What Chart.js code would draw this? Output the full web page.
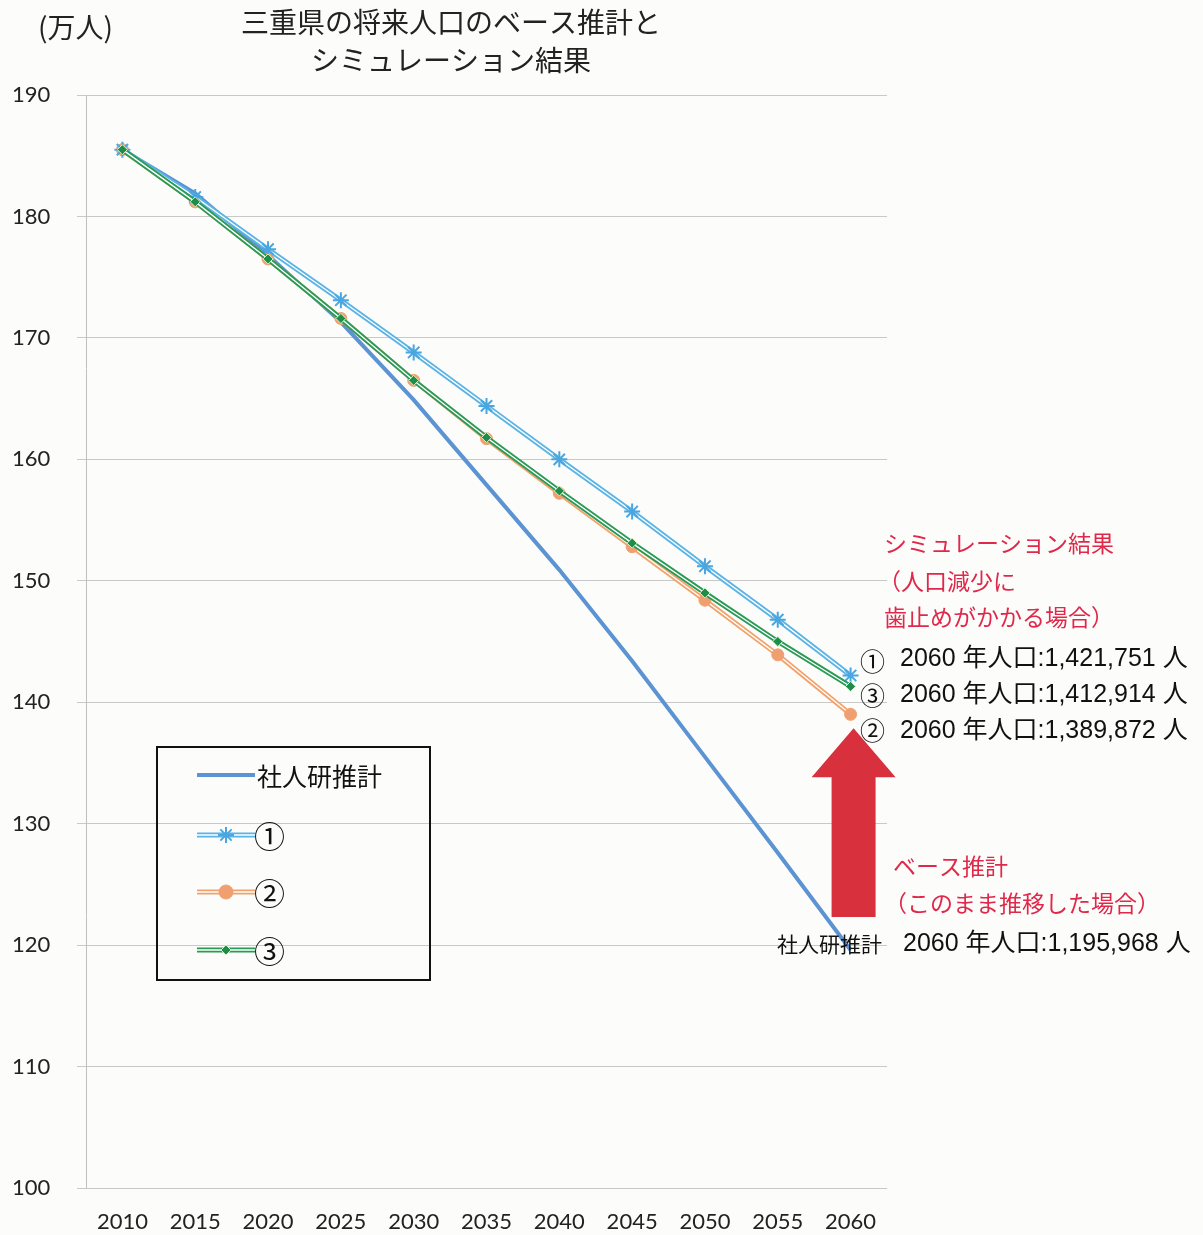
<!DOCTYPE html>
<html lang="ja">
<head>
<meta charset="utf-8">
<title>三重県の将来人口のベース推計とシミュレーション結果</title>
<script src="https://cdn.jsdelivr.net/npm/chart.js@4.4.1/dist/chart.umd.min.js"></script>
<style>
html,body{margin:0;padding:0;background:#fcfcfa;}
#wrap{position:relative;width:1203px;height:1235px;}
</style>
</head>
<body>
<div id="wrap"><canvas id="PopChart" width="1203" height="1235"></canvas></div>
<script>
// ---- data (万人) ----
var YearLabels   = ['2010','2015','2020','2025','2030','2035','2040','2045','2050','2055','2060'];
var ShajinkenData = [185.5, 181.9, 176.8, 171.3, 164.9, 157.9, 150.9, 143.4, 135.5, 127.6, 119.6];
var Sim1Data      = [185.5, 181.6, 177.3, 173.1, 168.8, 164.4, 160.0, 155.7, 151.2, 146.8, 142.2];
var Sim2Data      = [185.5, 181.2, 176.5, 171.6, 166.5, 161.7, 157.2, 152.8, 148.4, 143.9, 139.0];
var Sim3Data      = [185.5, 181.2, 176.5, 171.6, 166.5, 161.8, 157.4, 153.1, 149.0, 145.0, 141.3];
var YMin = 100, YMax = 190, YStep = 10;

var SeriesNames = ['社人研推計','①','②','③'];
var Pop2060Text = ['2060 年人口:1,421,751 人','2060 年人口:1,412,914 人','2060 年人口:1,389,872 人','2060 年人口:1,195,968 人'];

var BlueCol  = '#5b93d3';
var Sim1Col  = '#5ab4e5';
var Sim2Col  = '#f2a36c';
var Sim3Col  = '#2b9a57';
var RedCol   = '#e0284a';
var ArrowCol = '#d9303e';

var JpFont  = '"Noto Sans CJK JP", "Noto Sans", sans-serif';
var NumFont = '"Liberation Sans", "Noto Sans CJK JP", sans-serif';

// a "double line" series = thick coloured line + thin white line with the markers on top
function doubleLine(data, col, order, pStyle, pRadius, pFill, pBorder, pBorderW)
{
	return [
		{ data: data, borderColor: col, borderWidth: 5, pointRadius: 0, order: order + 1, tension: 0 },
		{ data: data, borderColor: '#ffffff', borderWidth: 1.3, order: order, tension: 0,
		  pointStyle: pStyle, pointRadius: pRadius, pointBackgroundColor: pFill,
		  pointBorderColor: pBorder, pointBorderWidth: pBorderW }
	];
}

var ChartDatasets = [].concat(
	doubleLine(Sim3Data, Sim3Col, 1, 'rectRot', 5, '#1e8c4a', '#d6eec0', 1),
	doubleLine(Sim1Data, Sim1Col, 3, 'star', 8, Sim1Col, '#4aa6e0', 2),
	doubleLine(Sim2Data, Sim2Col, 5, 'circle', 6, '#f0a070', '#f0a070', 1),
	[{ data: ShajinkenData, borderColor: BlueCol, borderWidth: 4, pointRadius: 0, order: 7, tension: 0 }]
);

function drawSample(ctx, x1, x2, y, col, dbl, pt)
{
	ctx.save();
	ctx.lineCap = 'butt';
	ctx.strokeStyle = col; ctx.lineWidth = dbl ? 5 : 4;
	ctx.beginPath(); ctx.moveTo(x1, y); ctx.lineTo(x2, y); ctx.stroke();
	if (dbl) {
		ctx.strokeStyle = '#ffffff'; ctx.lineWidth = 1.3;
		ctx.beginPath(); ctx.moveTo(x1, y); ctx.lineTo(x2, y); ctx.stroke();
	}
	ctx.restore();
	if (pt) {
		ctx.save();
		ctx.fillStyle = pt.fill; ctx.strokeStyle = pt.border; ctx.lineWidth = pt.bw;
		Chart.helpers.drawPoint(ctx, { pointStyle: pt.style, radius: pt.r, borderWidth: pt.bw, rotation: 0 }, (x1 + x2) / 2, y);
		ctx.restore();
	}
}

var DecorPlugin = {
	id: 'decor',
	afterDraw: function(chart)
	{
		var ctx = chart.ctx, xs = chart.scales.x, ys = chart.scales.y;
		ctx.save();
		ctx.textBaseline = 'middle';

		// unit + title
		ctx.fillStyle = '#222';
		ctx.font = '28px ' + JpFont;
		ctx.textAlign = 'left';
		ctx.fillText('(万人)', 38, 27);
		ctx.textAlign = 'center';
		ctx.fillText('三重県の将来人口のベース推計と', 451, 22);
		ctx.fillText('シミュレーション結果', 451, 60);

		// legend box
		ctx.strokeStyle = '#111'; ctx.lineWidth = 2;
		ctx.strokeRect(157, 747, 273, 233);
		drawSample(ctx, 197, 255, 775, BlueCol, false, null);
		drawSample(ctx, 197, 255, 835, Sim1Col, true, { style: 'star', r: 8, fill: Sim1Col, border: '#4aa6e0', bw: 2 });
		drawSample(ctx, 197, 255, 892, Sim2Col, true, { style: 'circle', r: 7, fill: '#f0a070', border: '#f0a070', bw: 1 });
		drawSample(ctx, 197, 255, 950, Sim3Col, true, { style: 'rectRot', r: 5, fill: '#1e8c4a', border: '#d6eec0', bw: 1 });
		ctx.fillStyle = '#111'; ctx.textAlign = 'left';
		ctx.font = '25px ' + JpFont;
		ctx.fillText(SeriesNames[0], 257, 776);
		ctx.font = '31px ' + JpFont;
		ctx.fillText(SeriesNames[1], 254, 836);
		ctx.fillText(SeriesNames[2], 254, 893);
		ctx.fillText(SeriesNames[3], 254, 951);

		// red arrow between base projection and ② in 2060
		var ax = xs.getPixelForValue(YearLabels.length - 1) + 3;
		var tipY = ys.getPixelForValue(Sim2Data[Sim2Data.length - 1]) + 14;
		var baseY = ys.getPixelForValue(ShajinkenData[ShajinkenData.length - 1]) - 33;
		ctx.fillStyle = ArrowCol;
		ctx.beginPath();
		ctx.moveTo(ax, tipY);
		ctx.lineTo(ax + 42, tipY + 49);
		ctx.lineTo(ax + 22, tipY + 49);
		ctx.lineTo(ax + 22, baseY);
		ctx.lineTo(ax - 22, baseY);
		ctx.lineTo(ax - 22, tipY + 49);
		ctx.lineTo(ax - 42, tipY + 49);
		ctx.closePath();
		ctx.fill();

		// simulation texts
		ctx.fillStyle = RedCol; ctx.textAlign = 'left';
		ctx.font = '23px ' + JpFont;
		ctx.fillText('シミュレーション結果', 884, 543);
		ctx.fillText('（人口減少に', 878, 581);
		ctx.fillText('歯止めがかかる場合）', 884, 617);
		ctx.fillText('ベース推計', 893, 866);
		ctx.fillText('（このまま推移した場合）', 884, 903);

		ctx.fillStyle = '#111';
		ctx.font = '25px ' + JpFont;
		ctx.fillText('①', 860, 661);
		ctx.fillText('③', 860, 695);
		ctx.fillText('②', 860, 730);
		ctx.font = '25px ' + NumFont;
		ctx.fillText(Pop2060Text[0], 900, 659);
		ctx.fillText(Pop2060Text[1], 900, 695);
		ctx.fillText(Pop2060Text[2], 900, 731);
		ctx.fillText(Pop2060Text[3], 903, 944);
		ctx.font = '21px ' + JpFont;
		ctx.fillText(SeriesNames[0], 777, 944);

		ctx.restore();
	}
};

var ChartOptions =
{
	responsive: false,
	animation: false,
	layout: { padding: { left: 12, right: 316, top: 95, bottom: 0 } },
	plugins: { legend: { display: false }, tooltip: { enabled: false } },
	scales:
	{
		x: {
			type: 'category',
			offset: true,
			grid: { display: false, drawTicks: false },
			border: { display: false },
			ticks: { color: '#222', font: { family: 'Lato', size: 22 }, padding: 21, maxRotation: 0 },
			afterFit: function(scale) { scale.height = 47; }
		},
		y: {
			min: YMin, max: YMax,
			grid: { color: '#c9c9c9', lineWidth: 1, tickLength: 9 },
			border: { display: true, color: '#c0c0c0' },
			ticks: { stepSize: YStep, color: '#222', font: { family: 'Lato', size: 22 }, crossAlign: 'far' },
			afterFit: function(scale) { scale.width = 74; }
		}
	}
};

var PopChart = new Chart(document.getElementById('PopChart'), {
	type: 'line',
	data: { labels: YearLabels, datasets: ChartDatasets },
	options: ChartOptions,
	plugins: [DecorPlugin]
});
</script>
</body>
</html>
